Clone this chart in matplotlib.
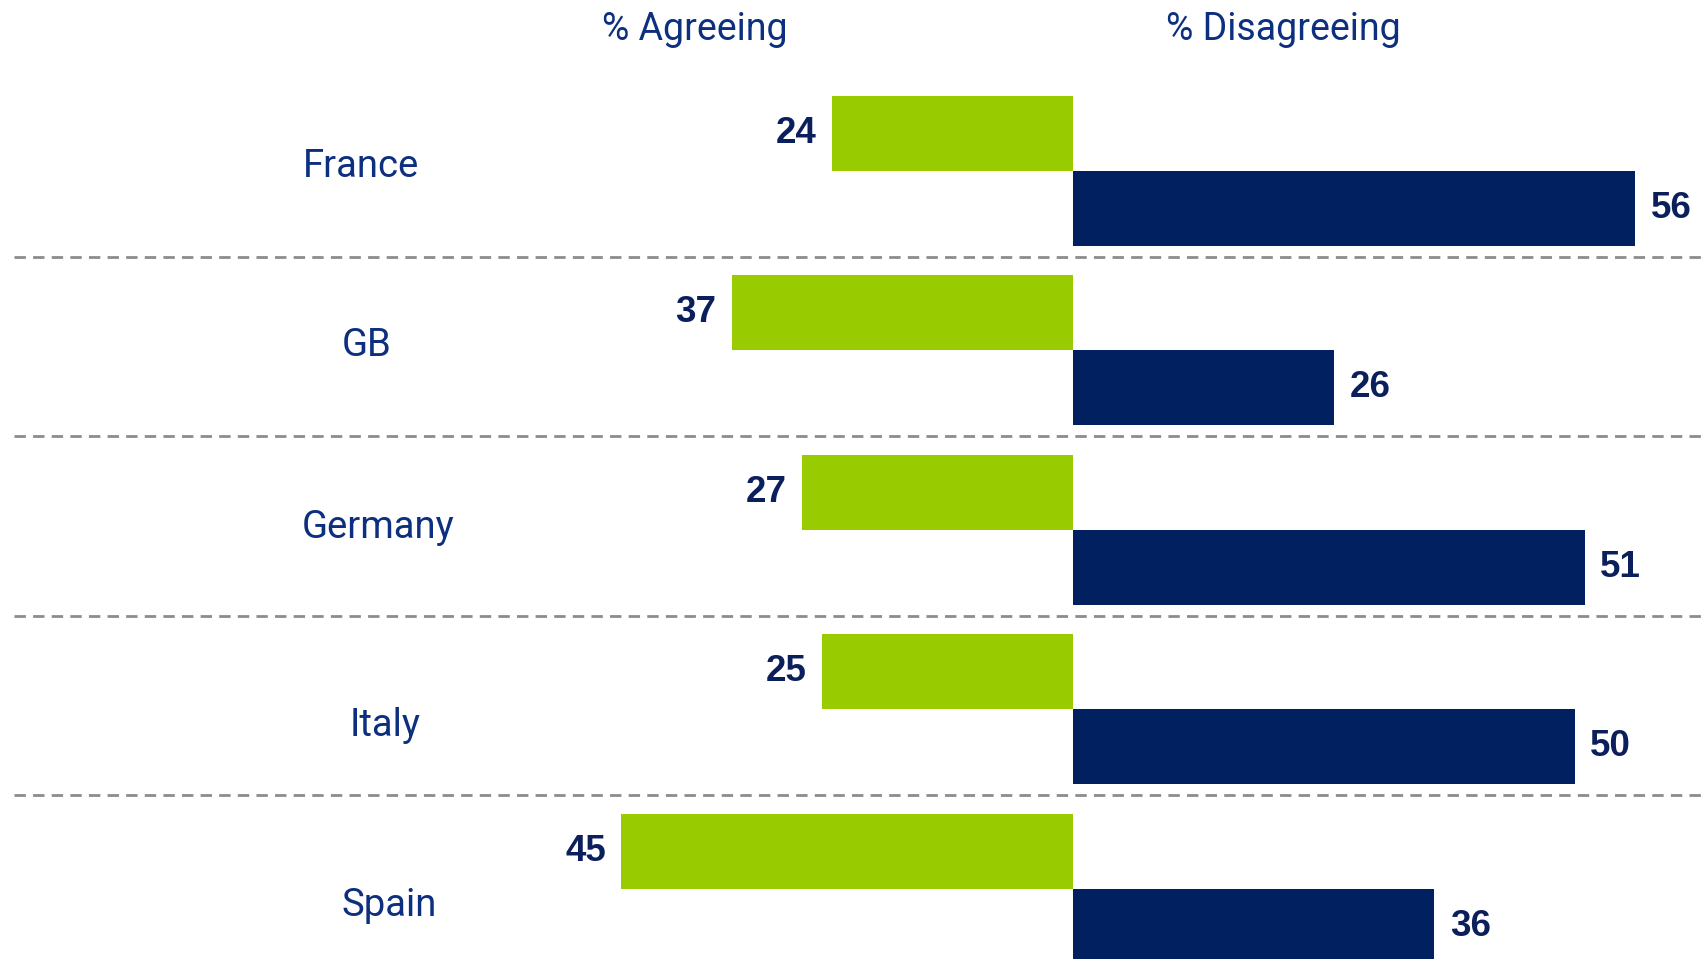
import matplotlib.pyplot as plt
import matplotlib.transforms as mtransforms

countries = ["France", "GB", "Germany", "Italy", "Spain"]
# bar lengths as drawn in the reference (GB's green bar is shorter than its label)
agree_bar = [24, 34, 27, 25, 45]
agree_labels = ["24", "37", "27", "25", "45"]
disagree = [56, 26, 51, 50, 36]
disagree_labels = ["56", "26", "51", "50", "36"]

green = "#99cc00"
navy = "#012060"
label_col = "#0c2f7f"
num_col = "#0b1f5c"

# where the country names sit (they are not quite aligned in the original)
name_x = [0.212, 0.215, 0.222, 0.226, 0.228]
name_dy = [-0.025, -0.024, -0.013, 0.09, 0.096]

fig = plt.figure(figsize=(17.05, 9.59), dpi=100)
ax = fig.add_axes([0, 0, 1, 1])

h = 0.418
ys = list(range(len(countries)))

ax.barh([y - h / 2 for y in ys], [-v for v in agree_bar], height=h, color=green)
ax.barh([y + h / 2 for y in ys], disagree, height=h, color=navy)

for y, v, lab in zip(ys, agree_bar, agree_labels):
    ax.annotate(lab, (-v, y - h / 2), xytext=(-11, 0), textcoords="offset points",
                ha="right", va="center", fontsize=26.5, fontweight="bold",
                family="Liberation Sans", color=num_col)
for y, v, lab in zip(ys, disagree, disagree_labels):
    ax.annotate(lab, (v, y + h / 2), xytext=(11, 0), textcoords="offset points",
                ha="left", va="center", fontsize=26.5, fontweight="bold",
                family="Liberation Sans", color=num_col)

# dashed separators between countries
for y in ys[:-1]:
    ax.axhline(y + 0.48, xmin=14 / 1705, xmax=1, color="#8c8c8c", lw=2,
               dashes=(4.1, 2.6))

trans = mtransforms.blended_transform_factory(ax.transAxes, ax.transData)
for y, c, nx, dy in zip(ys, countries, name_x, name_dy):
    ax.text(nx, y + dy, c, transform=trans, ha="center", va="center",
            fontsize=27.5, family="Roboto", color=label_col)

fig.text(0.4076, 0.969, "% Agreeing", ha="center", va="center",
         fontsize=27, family="Roboto", color=label_col)
fig.text(0.753, 0.969, "% Disagreeing", ha="center", va="center",
         fontsize=27, family="Roboto", color=label_col)

ax.set_xlim(-106.87, 62.95)
ax.set_ylim(4.392, -0.951)
ax.axis("off")

fig.savefig("out.png", dpi=100)
